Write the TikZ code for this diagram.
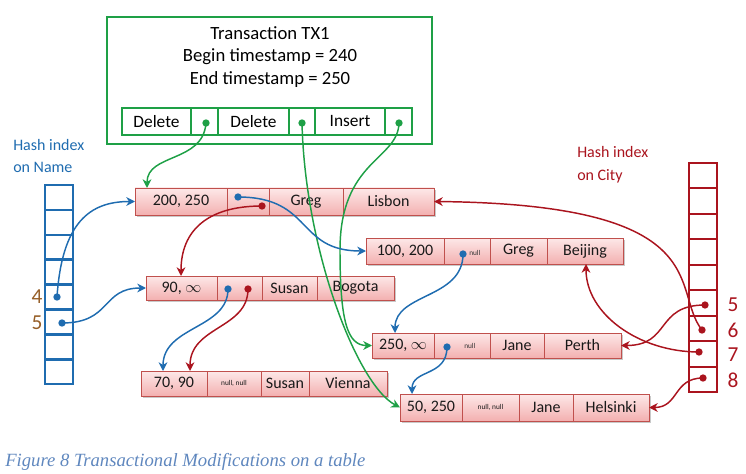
\documentclass[tikz,border=0pt]{standalone}
\usepackage{fontspec}
\setmainfont{Carlito}
\newfontfamily\capfont{Liberation Serif}
\usetikzlibrary{arrows.meta,fit,shadows,calc}
\definecolor{cgreen}{RGB}{30,160,70}
\definecolor{cblue}{RGB}{31,108,176}
\definecolor{cred}{RGB}{170,20,30}
\definecolor{pinkT}{RGB}{253,232,232}
\definecolor{pinkB}{RGB}{243,176,176}
\definecolor{pinkD}{RGB}{192,80,77}
\definecolor{cbrown}{RGB}{150,95,40}
\definecolor{ccap}{RGB}{95,135,190}
\newcommand\mkcell[6][celltxt]{\coordinate (#3-p) at (#4); \coordinate (#3-q) at (#5); \node[#2, fit=(#3-p)(#3-q)] (#3) {}; \node[#1] (#3-t) at (#3.center) {#6};}
\begin{document}
\begin{tikzpicture}[x=0.75pt,y=-0.75pt,
  bx/.style={inner sep=0pt, outer sep=0pt},
  celltxt/.style={inner sep=0pt, text=black!90, font=\fontsize{12}{14}\selectfont},
  txtxt/.style={inner sep=0pt, text=black, font=\fontsize{13}{15}\selectfont},
  rc/.style={bx, draw=pinkD, line width=0.6pt, top color=pinkT, bottom color=pinkB},
  rowsh/.style={bx, fill=white, drop shadow={shadow xshift=1.6pt, shadow yshift=-1.6pt, opacity=0.3, fill=black!70}},
  tcell/.style={bx, draw=cgreen, line width=1.2pt},
  txo/.style={bx, draw=cgreen, line width=1.6pt},
  hbl/.style={bx, draw=cblue, line width=1.9pt},
  hrd/.style={bx, draw=cred, line width=1.5pt},
  dotg/.style={circle, fill=cgreen, inner sep=0pt, minimum size=5.5pt},
  dotb/.style={circle, fill=cblue, inner sep=0pt, minimum size=5.5pt},
  dotr/.style={circle, fill=cred, inner sep=0pt, minimum size=5.5pt},
  nulltxt/.style={inner sep=0pt, font=\fontsize{5.5}{6}\selectfont, text=black!80},
  con/.style={line width=1.1pt, -{Stealth[length=6.5pt,width=6.5pt,inset=2pt]}},
  lbl/.style={inner sep=0pt, font=\fontsize{12}{17}\selectfont, align=left, anchor=west},
  num/.style={inner sep=0pt, font=\fontsize{16}{18}\selectfont}
]
\useasboundingbox (0,0) rectangle (746,474);

% Transaction box
\mkcell{txo}{txbox}{107,17}{432,144}{}
\node[align=center, font=\fontsize{14}{16.8}\selectfont] (title) at (270,57) {Transaction TX1\\Begin timestamp = 240\\End timestamp = 250};
\mkcell[txtxt]{tcell}{tc1}{122,108}{191,135}{Delete}
\mkcell{tcell}{tc2}{191,108}{218,135}{}
\mkcell[txtxt]{tcell}{tc3}{218,108}{289,135}{Delete}
\mkcell{tcell}{tc4}{289,108}{315,135}{}
\mkcell[txtxt]{tcell}{tc5}{315,108}{385,135}{Insert}
\mkcell{tcell}{tc6}{385,108}{412,135}{}

% Hash indexes
\foreach \i in {1,...,8} {
  \pgfmathsetmacro\ya{185+(\i-1)*24.9}
  \pgfmathsetmacro\yb{185+\i*24.9}
  \mkcell{hbl}{hl\i}{45,\ya}{73,\yb}{}
}
\foreach \i in {1,...,9} {
  \pgfmathsetmacro\ya{163+(\i-1)*25.44}
  \pgfmathsetmacro\yb{163+\i*25.44}
  \mkcell{hrd}{hr\i}{689,\ya}{717,\yb}{}
}
\node[lbl, text=cblue] (hnName) at (13,156) {Hash index\\on Name};
\node[lbl, text=cred] (hnCity) at (577,165) {Hash index\\on City};
\node[num, text=cbrown] (n4) at (37,297) {4};
\node[num, text=cbrown] (n5) at (37,323) {5};
\node[num, text=cred] (m5) at (733,305) {5};
\node[num, text=cred] (m6) at (733,330) {6};
\node[num, text=cred] (m7) at (733,355) {7};
\node[num, text=cred] (m8) at (733,380) {8};

% Row 1
\coordinate (row1-p) at (135,188); \coordinate (row1-q) at (434,215);
\node[rowsh, fit=(row1-p)(row1-q)] (row1) {};
\mkcell{rc}{r1a}{135,188}{227,215}{200, 250}
\mkcell{rc}{r1b}{227,188}{269,215}{}
\mkcell{rc}{r1c}{269,188}{343,215}{Greg}
\mkcell{rc}{r1d}{343,188}{434,215}{Lisbon}
% Row 2
\coordinate (row2-p) at (366,238); \coordinate (row2-q) at (623,264);
\node[rowsh, fit=(row2-p)(row2-q)] (row2) {};
\mkcell{rc}{r2a}{366,238}{444,264}{100, 200}
\mkcell{rc}{r2b}{444,238}{490,264}{}
\mkcell{rc}{r2c}{490,238}{547,264}{Greg}
\mkcell{rc}{r2d}{547,238}{623,264}{Beijing}
% Row 3
\coordinate (row3-p) at (146,276); \coordinate (row3-q) at (394,300);
\node[rowsh, fit=(row3-p)(row3-q)] (row3) {};
\mkcell{rc}{r3a}{146,276}{217,300}{90, $\infty$}
\mkcell{rc}{r3b}{217,276}{262,300}{}
\mkcell{rc}{r3c}{262,276}{317,300}{Susan}
\mkcell{rc}{r3d}{317,276}{394,300}{Bogota}
% Row 4
\coordinate (row4-p) at (372,333); \coordinate (row4-q) at (621,358);
\node[rowsh, fit=(row4-p)(row4-q)] (row4) {};
\mkcell{rc}{r4a}{372,333}{434,358}{250, $\infty$}
\mkcell{rc}{r4b}{434,333}{490,358}{}
\mkcell{rc}{r4c}{490,333}{544,358}{Jane}
\mkcell{rc}{r4d}{544,333}{621,358}{Perth}
% Row 5
\coordinate (row5-p) at (141,371); \coordinate (row5-q) at (387,396);
\node[rowsh, fit=(row5-p)(row5-q)] (row5) {};
\mkcell{rc}{r5a}{141,371}{207,396}{70, 90}
\mkcell{rc}{r5b}{207,371}{261,396}{\fontsize{5.5}{6}\selectfont null, null}
\mkcell{rc}{r5c}{261,371}{309,396}{Susan}
\mkcell{rc}{r5d}{309,371}{387,396}{Vienna}
% Row 6
\coordinate (row6-p) at (400,394); \coordinate (row6-q) at (649,421);
\node[rowsh, fit=(row6-p)(row6-q)] (row6) {};
\mkcell{rc}{r6a}{400,394}{462,421}{50, 250}
\mkcell{rc}{r6b}{462,394}{519,421}{\fontsize{5.5}{6}\selectfont null, null}
\mkcell{rc}{r6c}{519,394}{573,421}{Jane}
\mkcell{rc}{r6d}{573,394}{649,421}{Helsinki}

\node[nulltxt, anchor=west] (null2) at (469,253) {null};
\node[nulltxt, anchor=west] (null4) at (464,346) {null};

% Dots
\node[dotg] (g1) at (206,123) {};
\node[dotg] (g2) at (302,123) {};
\node[dotg] (g3) at (399,123) {};
\node[dotb] (p1b) at (238,197) {};
\node[dotr] (p1r) at (262,206) {};
\node[dotb] (p2) at (463,254) {};
\node[dotb] (p3b) at (228,289) {};
\node[dotr] (p3r) at (248,289) {};
\node[dotb] (p4) at (447,347) {};
\node[dotb] (h4) at (57,297) {};
\node[dotb] (h5) at (62,323) {};
\node[dotr] (k5) at (705,305) {};
\node[dotr] (k6) at (702,330) {};
\node[dotr] (k7) at (699,352) {};
\node[dotr] (k8) at (703,378) {};
\coordinate (g3m) at (340,250);

% Connectors
\draw[con, cgreen] (g1.center) .. controls +(-3,40) and +(0,-35) .. ($(r1a.north west)+(12,0)$);
\draw[con, cgreen] (g2.center) .. controls +(3,127) and +(-43,-23) .. (r6a.west);
\draw[con, cgreen] (g3.center) .. controls +(-1,37) and +(0,-90) .. (g3m) .. controls +(0,70) and +(-25,0) .. (r4a.west);

\draw[con, cblue] (h4.center) .. controls +(5,-75) and +(-45,0) .. (r1a.west);
\draw[con, cblue] (h5.center) .. controls +(50,0) and +(-45,0) .. (r3a.west);
\draw[con, cblue] (p1b.center) .. controls +(75,0) and +(-70,0) .. (r2a.west);
\draw[con, cblue] (p3b.center) .. controls +(0,40) and +(0,-45) .. ($(r5a.north west)+(22,0)$);
\draw[con, cblue] (p2.center) .. controls +(0,45) and +(0,-40) .. ($(r4a.north west)+(23,0)$);
\draw[con, cblue] (p4.center) .. controls +(0,30) and +(0,-25) .. ($(r6a.north west)+(12,0)$);

\draw[con, cred] (p1r.center) .. controls +(-55,0) and +(0,-45) .. ($(r3a.north west)+(35,0)$);
\draw[con, cred] (p3r.center) .. controls +(0,40) and +(0,-45) .. ($(r5a.north west)+(49,0)$);
\draw[con, cred] (k6.center) .. controls +(-32,-40) and +(286,3) .. (r1d.east);
\draw[con, cred] (k7.center) .. controls +(-60,0) and +(0,50) .. ($(r2d.south west)+(39,0)$);
\draw[con, cred] (k5.center) .. controls +(-50,0) and +(50,0) .. (r4d.east);
\draw[con, cred] (k8.center) .. controls +(-30,0) and +(30,0) .. (r6d.east);

% Caption
\node[inner sep=0pt, anchor=west, text=ccap, font=\capfont\itshape\fontsize{14}{16}\selectfont] (caption) at (5,462) {Figure 8 Transactional Modifications on a table};
\end{tikzpicture}
\end{document}
